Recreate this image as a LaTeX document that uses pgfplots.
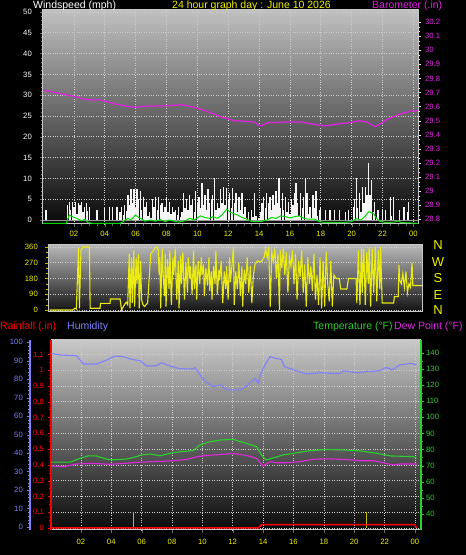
\documentclass[border=0pt]{standalone}
\usepackage{pgfplots}
\pgfplotsset{compat=1.18}
\usepackage{fontspec}
\setmainfont{Liberation Sans}
\definecolor{hum}{RGB}{128,128,255}
\definecolor{tmp}{RGB}{40,210,40}
\definecolor{dew}{RGB}{225,40,225}
\definecolor{baro}{RGB}{230,30,230}
\definecolor{ylw}{RGB}{240,240,0}
\definecolor{dylw}{RGB}{190,190,0}
\definecolor{wdir}{RGB}{235,235,20}
\definecolor{framec}{RGB}{200,200,200}
\definecolor{tk}{RGB}{110,110,110}
\definecolor{gridc}{RGB}{205,205,205}
\definecolor{bgA}{RGB}{192,192,192}
\definecolor{bgB}{RGB}{8,8,8}
\definecolor{bgC}{RGB}{185,185,185}
\definecolor{bgD}{RGB}{18,18,18}
\definecolor{bgE}{RGB}{200,200,200}
\definecolor{bgF}{RGB}{10,10,10}
\begin{document}
\begin{tikzpicture}
\fill[black, use as bounding box] (0pt,0pt) rectangle (466pt,555pt);
\pgfplotsset{
  every axis/.append style={scale only axis, anchor=south west,
    font=\fontsize{7.7}{8}\selectfont,
    /pgf/number format/assume math mode=true,
    tick align=outside, major tick length=3pt, minor tick length=2pt},
  gridded/.style={grid=major, major grid style={gridc, dotted, line width=0.6pt}},
}
% ---------------- Panel 1: wind speed ----------------
\begin{axis}[at={(43pt,331pt)}, width=375pt, height=214pt,
  xmin=0, xmax=24.3, ymin=-0.96, ymax=50.48,
  axis background/.style={top color=bgA, bottom color=bgB},
  axis line style={framec, line width=1pt},
  xtick={2,4,...,24}, xticklabels={02,04,06,08,10,12,14,16,18,20,22,00},
  ytick={0,5,...,50}, minor y tick num=4, minor x tick num=3,
  xtick pos=left, ytick pos=left, tick style={tk},
  xticklabel style={ylw, inner sep=0pt}, yticklabel style={white, inner sep=0pt},
  xticklabel shift=4pt, yticklabel shift=8pt, gridded]
\addplot[gray!80, line width=0.8pt, no marks] coordinates {(0,0) (24.3,0)};
\addplot[white!92!gray, ycomb, line width=1.35pt, no marks] coordinates {
(0.2,2.5)
(1.6,3.5)(1.7,4.3)(1.8,2.5)(1.9,4.4)(2.0,3.2)(2.1,4.4)(2.2,1.5)(2.3,4.0)(2.4,3.5)(2.5,4.4)(2.6,2.0)(2.7,3.2)(2.8,4.0)(2.9,2.2)(3.0,3.2)
(3.5,2.3)(4.0,3.0)(4.3,3.2)(4.5,3.2)(4.8,3.2)(5.0,2.0)(5.1,3.2)(5.2,1.2)(5.3,3.5)(5.4,2.2)(5.5,6.0)(5.6,3.5)(5.7,7.5)(5.8,4.0)(5.9,7.5)
(6.0,3.0)(6.1,7.5)(6.2,5.0)(6.3,7.0)(6.4,2.5)(6.5,5.5)(6.6,3.2)(6.7,4.4)(6.8,1.0)(6.9,2.0)(7.0,0.5)(7.1,5.0)(7.2,3.2)(7.3,5.6)(7.4,2.5)
(7.5,5.6)(7.6,3.5)(7.7,4.0)(7.8,2.0)(7.9,3.2)(8.0,5.6)(8.1,2.0)(8.2,4.4)(8.3,1.5)(8.4,3.2)(8.5,2.0)(8.6,2.5)(8.7,1.2)(8.8,3.2)(8.9,0.8)
(9.0,2.0)(9.1,6.4)(9.2,3.0)(9.3,5.0)(9.4,2.5)(9.5,6.0)(9.6,3.5)(9.7,5.0)(9.8,2.0)(9.9,7.0)(10.0,4.0)(10.1,5.6)(10.2,3.0)(10.3,8.8)(10.4,3.5)
(10.5,6.0)(10.6,2.5)(10.7,7.5)(10.8,4.0)(10.9,5.0)(11.0,6.0)(11.1,10.0)(11.2,2.5)(11.3,4.0)(11.4,3.0)(11.5,7.5)(11.6,4.0)(11.7,8.0)(11.8,3.5)
(11.9,7.6)(12.0,5.0)(12.1,6.5)(12.2,3.0)(12.3,7.6)(12.4,4.0)(12.5,6.4)(12.6,2.0)(12.7,5.6)(12.8,2.5)(12.9,6.4)(13.0,1.5)(13.1,3.2)(13.2,0.5)
(13.3,2.0)(13.5,2.4)(13.6,0.8)(13.7,6.4)(13.8,1.0)
(14.0,0.5)(14.1,2.0)(14.2,4.0)(14.3,5.6)(14.4,3.0)(14.5,6.5)(14.6,4.0)(14.7,5.6)(14.8,2.5)(14.9,6.0)(15.0,3.5)(15.1,7.0)(15.2,4.0)(15.3,10.0)
(15.4,3.0)(15.5,6.4)(15.6,2.5)(15.7,5.6)(15.8,2.0)(15.9,4.4)(16.0,1.5)(16.1,5.0)(16.2,3.5)(16.3,6.4)(16.4,8.8)(16.5,4.0)(16.6,1.0)(16.7,6.4)
(16.8,3.0)(16.9,5.6)(17.0,10.0)(17.1,6.4)(17.2,1.5)(17.3,3.2)(17.4,0.5)(17.5,6.0)(17.6,3.0)(17.7,7.0)(17.8,1.0)(17.9,2.5)(18.0,3.2)
(18.3,2.4)(18.6,2.4)(18.9,2.4)(19.2,2.4)(19.6,2.0)(19.8,2.4)
(20.1,3.2)(20.2,5.0)(20.3,10.0)(20.4,3.0)(20.5,6.4)(20.6,2.0)(20.7,8.0)(20.8,4.0)(20.9,8.0)(21.0,6.0)(21.1,13.6)(21.2,6.0)(21.3,9.6)(21.4,2.0)
(21.5,4.4)(21.6,0.5)(21.7,2.4)(22.0,2.4)(22.2,2.4)(22.5,5.6)(22.6,1.0)(22.7,5.6)(23.1,2.4)(23.4,3.2)(23.6,2.0)(23.7,4.4)};
\addplot[green!85!black, line width=1pt, no marks] coordinates {
(0,-0.8)(1.5,-0.8)(1.6,0.2)(1.7,1.2)(1.9,0.8)(2.1,0.5)(2.3,0.2)(2.5,-0.2)(2.7,0.2)(2.9,-0.6)(3.2,-0.8)(5.0,-0.8)(5.2,-0.4)(5.5,0.4)
(5.7,0.0)(6.0,1.2)(6.2,0.6)(6.4,0.2)(6.6,-0.3)(7.0,0.0)(7.3,-0.3)(7.6,0.1)(7.9,-0.4)(8.2,0.0)(8.5,-0.3)(8.8,-0.5)(9.2,-0.2)(9.5,0.4)
(9.8,0.0)(10.2,1.0)(10.5,0.6)(10.8,0.4)(11.0,0.8)(11.3,0.4)(11.6,1.2)(11.9,2.6)(12.1,2.0)(12.3,1.6)(12.6,1.2)(12.9,0.6)(13.2,0.2)
(13.5,-0.3)(13.8,-0.4)(14.2,-0.3)(14.5,0.0)(14.8,0.6)(15.1,0.4)(15.4,1.0)(15.7,0.8)(16.0,0.5)(16.3,0.8)(16.6,1.0)(16.9,0.4)(17.2,0.2)
(17.6,0.2)(17.9,-0.4)(18.3,-0.6)(19.5,-0.6)(20.0,-0.4)(20.3,0.3)(20.6,0.0)(20.9,1.0)(21.1,2.0)(21.4,1.6)(21.6,0.5)(21.8,-0.3)(22.2,-0.6)
(22.8,-0.5)(23.0,-0.2)(23.2,-0.6)(24.3,-0.8)};
\end{axis}
\begin{axis}[at={(43pt,331pt)}, width=375pt, height=214pt,
  xmin=0, xmax=24.3, ymin=28.767, ymax=30.285,
  axis y line*=right, axis x line=none,
  y axis line style={framec, line width=1pt},
  ytick={28.8,28.9,29,29.1,29.2,29.3,29.4,29.5,29.6,29.7,29.8,29.9,30,30.1,30.2},
  minor y tick num=2, tick style={white},
  yticklabel style={baro, inner sep=0pt}, yticklabel shift=4pt]
\addplot[baro, line width=1.2pt, no marks] coordinates {
(0,29.717)(0.8,29.70)(1.64,29.68)(2.28,29.666)(2.7,29.65)(3.3,29.648)(3.8,29.646)(4.64,29.618)(5.3,29.605)(5.9,29.594)(6.3,29.60)
(7.2,29.604)(8.1,29.606)(8.95,29.613)(9.8,29.595)(10.7,29.563)(11.5,29.528)(12.4,29.50)(13.2,29.495)(13.7,29.49)(14.1,29.462)
(14.55,29.485)(15.6,29.49)(16.7,29.49)(17.3,29.48)(18.2,29.462)(19.1,29.476)(20.1,29.49)(20.5,29.50)(21.0,29.49)(21.5,29.457)
(21.9,29.48)(22.3,29.51)(23.1,29.545)(23.8,29.568)(24.3,29.57)};
\end{axis}
% ---------------- Panel 2: wind direction ----------------
\begin{axis}[at={(48pt,243pt)}, width=374pt, height=67.5pt,
  xmin=-0.1, xmax=24.3, ymin=-11.4, ymax=374,
  axis background/.style={top color=bgC, bottom color=bgD},
  axis line style={framec, line width=1pt},
  xtick=\empty, ytick={0,90,180,270,360}, minor y tick num=2, ytick pos=left,
  tick style={dylw}, yticklabel style={ylw, inner sep=0pt}, yticklabel shift=7pt,
  ymajorgrids, major grid style={gridc, dotted, line width=0.6pt}]
\addplot[wdir, line width=1.1pt, no marks] coordinates {
(0,0)(1.5,0)(1.66,10)(1.75,5)(1.89,355)(1.95,10)(2.05,340)(2.17,360)(2.6,360)(2.65,10)(3.3,10)(3.32,38)(3.95,38)(3.97,63)(4.6,63)
(4.7,0)(4.85,25)(5.0,45)(5.1,30)(5.2,320)(5.25,10)(5.35,300)(5.4,40)(5.5,340)(5.55,20)(5.65,300)(5.7,150)(5.8,320)(5.85,10)(5.95,280)
(6.0,60)(6.1,30)(6.2,20)(6.4,40)(6.6,320)(6.7,330)(6.85,350)(7.0,360)(7.1,340)(7.15,200)(7.2,300)(7.25,10)(7.35,350)(7.4,220)(7.5,80)
(7.55,320)(7.6,20)(7.7,290)(7.8,120)(7.85,340)(7.95,30)(8.05,300)(8.1,200)(8.2,350)(8.3,60)(8.4,280)(8.45,10)(8.55,310)(8.6,150)
(8.7,330)(8.8,60)(8.9,270)(9.0,100)(9.05,300)(9.15,180)(9.2,250)(9.3,90)(9.4,340)(9.45,120)(9.55,260)(9.6,60)(9.7,280)(9.8,150)
(9.9,300)(9.95,200)(10.05,260)(10.1,80)(10.2,240)(10.3,140)(10.4,300)(10.45,110)(10.55,220)(10.6,60)(10.7,250)(10.8,150)(10.85,340)
(10.95,90)(11.05,230)(11.1,170)(11.2,280)(11.3,40)(11.4,220)(11.5,120)(11.55,250)(11.65,60)(11.75,300)(11.8,160)(11.9,250)(12.0,360)
(12.05,30)(12.15,220)(12.25,120)(12.35,270)(12.45,80)(12.55,250)(12.6,20)(12.7,230)(12.8,150)(12.9,300)(13.0,100)(13.1,250)(13.2,40)
(13.3,200)(13.4,260)(13.55,280)(13.8,275)(14.0,300)(14.1,350)(14.2,300)(14.3,360)(14.4,20)(14.5,330)(14.6,280)(14.7,350)(14.8,180)
(14.9,320)(15.0,0)(15.05,340)(15.15,240)(15.25,350)(15.35,200)(15.45,330)(15.55,100)(15.65,300)(15.75,250)(15.85,340)(15.95,150)
(16.05,320)(16.15,60)(16.25,280)(16.35,190)(16.45,340)(16.55,100)(16.65,260)(16.75,20)(16.85,300)(16.95,150)(17.05,250)(17.15,110)
(17.25,320)(17.35,60)(17.45,200)(17.55,30)(17.65,300)(17.75,10)(17.85,280)(17.95,20)(18.05,330)(18.15,150)(18.25,50)(18.35,280)
(18.45,20)(18.55,200)(18.7,180)(18.9,180)(19.0,120)(19.4,120)(19.5,180)(20.0,180)(20.05,40)(20.15,340)(20.25,30)(20.35,350)(20.4,100)
(20.5,350)(20.6,30)(20.7,330)(20.8,150)(20.85,360)(20.95,20)(21.05,350)(21.15,100)(21.25,360)(21.35,50)(21.45,340)(21.55,120)(21.6,360)
(21.7,40)(22.45,40)(22.5,76)(22.75,76)(22.8,257)(22.85,170)(22.95,150)(23.05,210)(23.15,130)(23.25,220)(23.35,100)(23.45,150)
(23.55,130)(23.65,270)(23.7,140)(24.3,140)};
\end{axis}
% ---------------- Panel 3: rain / humidity / temperature ----------------
\begin{axis}[at={(51pt,25pt)}, width=370pt, height=190pt,
  xmin=0.03, xmax=24.4, ymin=-0.013, ymax=1.191,
  axis background/.style={top color=bgE, bottom color=bgF},
  separate axis lines,
  axis line style={framec, line width=1pt},
  x axis line style={framec, line width=1pt},
  y axis line style={red, line width=1.8pt},
  xtick={2,4,...,24}, xticklabels={02,04,06,08,10,12,14,16,18,20,22,00},
  ytick={0,0.1,0.2,0.3,0.4,0.5,0.6,0.7,0.8,0.9,1,1.1},
  minor y tick num=1, xtick pos=left, ytick pos=left,
  xtick style={tk}, ytick style={red},
  xticklabel style={ylw, inner sep=0pt}, yticklabel style={red, inner sep=0pt},
  xticklabel shift=6pt, yticklabel shift=4pt, gridded]
\addplot[dylw, ycomb, line width=0.9pt, no marks] coordinates {(5.43,0.103)(20.8,0.103)};
\addplot[red, line width=1.6pt, no marks] coordinates {(0.03,0)(13.68,0)(13.9,0.021)(24.0,0.021)(24.1,0)};
\end{axis}
\begin{axis}[at={(30pt,25pt)}, width=391pt, height=190pt,
  xmin=-1.36, xmax=24.4, ymin=-1.6, ymax=101.2,
  axis y line*=left, axis x line=none,
  y axis line style={hum, line width=2pt},
  ytick={0,10,...,100}, minor y tick num=4, tick style={hum!70!gray},
  yticklabel style={hum, inner sep=0pt}, yticklabel shift=4pt]
\addplot[hum, line width=1.1pt, no marks] coordinates {
(0.02,94.0)(0.6,93.1)(1.72,92.7)(1.94,90.4)(2.16,88.2)(3.03,88.2)(3.7,90.4)(4.24,92.5)(4.79,92.2)(5.34,90.7)(5.9,90.0)(6.33,87.1)
(6.99,87.3)(7.3,88.9)(7.86,87.1)(8.5,85.7)(9.4,85.5)(9.5,86.4)(9.84,82.3)(10.2,78.7)(10.7,76.0)(11.2,76.9)(11.6,74.2)(12.03,74.2)
(12.5,74.2)(12.9,76.3)(13.46,80.5)(13.68,77.8)(13.8,82.3)(14.12,87.7)(14.45,92.2)(14.78,91.3)(15.2,90.7)(15.4,86.8)(16.0,85.0)
(16.87,82.8)(17.75,83.5)(18.6,83.1)(19.07,83.1)(19.3,84.6)(20.2,83.5)(20.8,84.1)(21.7,84.6)(22.1,86.4)(22.5,85.0)(23.0,87.7)
(23.8,88.6)(24.0,87.7)(24.1,88.2)};
\end{axis}
\begin{axis}[at={(51pt,25pt)}, width=370pt, height=190pt,
  xmin=0.03, xmax=24.4, ymin=30.08, ymax=147.9,
  axis y line*=right, axis x line=none,
  y axis line style={tmp, line width=1.5pt},
  ytick={40,50,...,140}, minor y tick num=1, tick style={tmp},
  yticklabel style={tmp, inner sep=0pt}, yticklabel shift=2pt]
\addplot[dew, line width=1.1pt, no marks] coordinates {
(0.03,69.8)(0.9,69.4)(1.7,71.0)(2.8,71.4)(3.9,70.8)(5.45,71.8)(6.55,72.4)(7.65,72.8)(8.97,73.8)(9.62,75.5)(10.28,76.3)(11.4,77.1)
(12.03,77.5)(12.9,76.3)(13.57,74.5)(14.0,69.8)(14.45,72.4)(14.9,71.8)(15.5,71.8)(16.4,72.4)(17.3,74.0)(18.2,74.2)(19.5,73.8)
(20.4,73.0)(21.3,73.0)(22.1,71.4)(22.6,70.4)(23.0,71.0)(24.1,71.0)};
\addplot[tmp, line width=1.1pt, no marks] coordinates {
(0.03,72.2)(1.3,72.2)(1.94,74.5)(2.5,76.1)(3.0,76.0)(3.7,74.0)(4.13,73.6)(5.0,74.1)(5.45,75.0)(6.0,76.6)(6.55,77.2)(7.2,76.1)
(7.86,77.6)(8.5,78.6)(9.4,79.3)(9.84,82.8)(10.5,84.8)(11.2,85.9)(12.03,86.3)(12.9,83.8)(13.57,81.7)(13.9,76.6)(14.2,73.5)(14.6,74.6)
(15.3,76.6)(16.0,77.6)(17.1,79.3)(18.2,80.0)(19.3,79.7)(20.2,79.3)(20.8,78.6)(21.5,77.6)(22.4,76.0)(23.9,75.6)(24.1,74.6)};
\end{axis}
% ---------------- Texts ----------------
\begin{scope}[every node/.style={inner sep=0pt, anchor=west, font=\fontsize{10.5}{12}\selectfont}]
\node[white] at (33pt,549pt) {Windspeed (mph)};
\node[ylw] at (172pt,549pt) {24 hour graph day : June 10 2026};
\node[baro] at (372pt,549pt) {Barometer (.in)};
\node[red] at (0pt,228.3pt) {Rainfall (.in)};
\node[hum] at (67pt,228.3pt) {Humidity};
\node[tmp] at (313pt,228.3pt) {Temperature (°F)};
\node[dew] at (394pt,228.3pt) {Dew Point (°F)};
\end{scope}
\begin{scope}[every node/.style={inner sep=0pt, ylw, font=\fontsize{13}{14}\selectfont}]
\node at (438pt,310pt) {N};
\node at (438pt,293.3pt) {W};
\node at (438pt,276.7pt) {S};
\node at (438pt,260pt) {E};
\node at (438pt,245pt) {N};
\end{scope}
\end{tikzpicture}
\end{document}
